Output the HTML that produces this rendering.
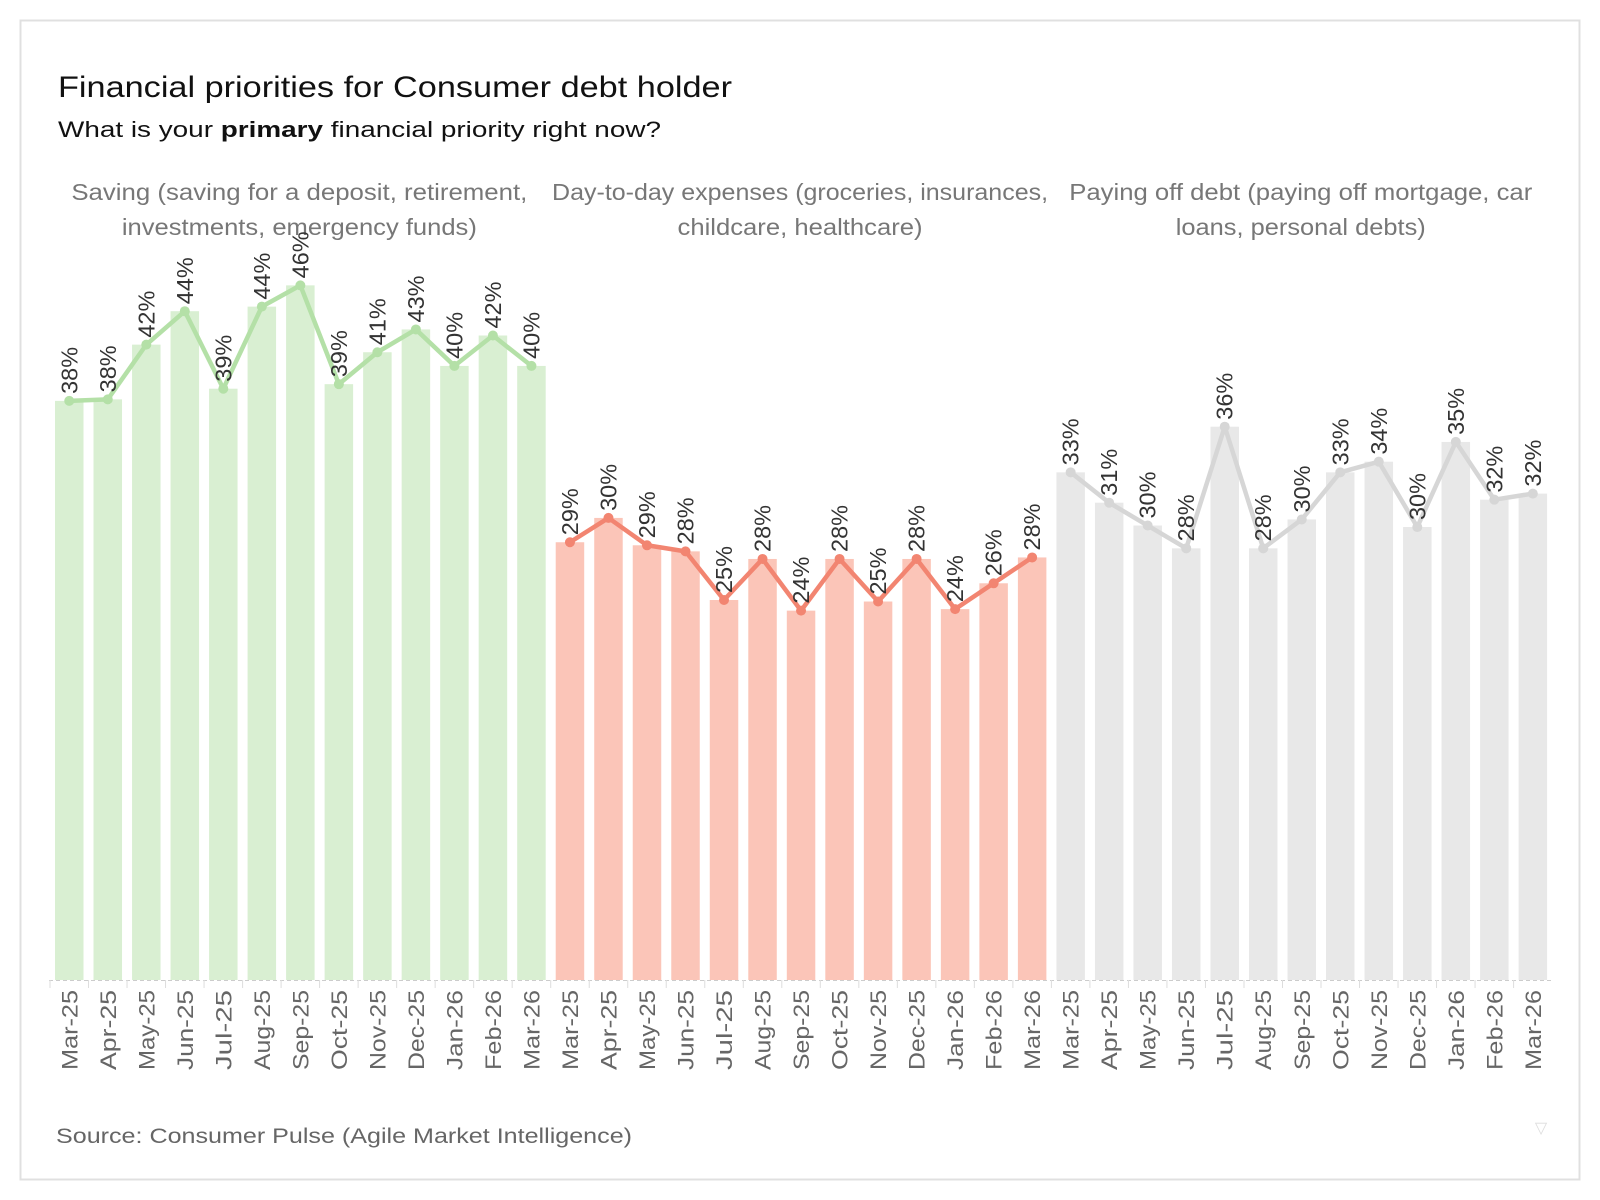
<!DOCTYPE html>
<html><head><meta charset="utf-8"><style>
html,body{margin:0;padding:0;background:#fff;width:1600px;height:1200px;overflow:hidden}
svg{display:block;font-family:"Liberation Sans",sans-serif}
</style></head><body>
<svg id="chart" width="1600" height="1200" viewBox="0 0 1600 1200">
<rect x="20.5" y="20.5" width="1559" height="1159" fill="#fff" stroke="#e0e0e0" stroke-width="2"/>
<text x="58" y="97" font-size="30" fill="#111" textLength="674" lengthAdjust="spacingAndGlyphs">Financial priorities for Consumer debt holder</text>
<text x="58" y="137" font-size="22" fill="#111" textLength="603" lengthAdjust="spacingAndGlyphs">What is your <tspan font-weight="bold">primary</tspan> financial priority right now?</text>
<g id="headers"></g>
<line x1="49" y1="980.5" x2="1551" y2="980.5" stroke="#ccc" stroke-dasharray="4,3"/>
<g id="plot"></g>
<text x="56" y="1143" font-size="21" fill="#666" textLength="576" lengthAdjust="spacingAndGlyphs">Source: Consumer Pulse (Agile Market Intelligence)</text>
<text x="1541" y="1133" font-size="16" fill="#ddd" text-anchor="middle">▽</text>
</svg>
<script>
const months = ["Mar-25","Apr-25","May-25","Jun-25","Jul-25","Aug-25","Sep-25","Oct-25","Nov-25","Dec-25","Jan-26","Feb-26","Mar-26"];
const savingValues = [38.1,38.2,41.8,44.0,38.9,44.3,45.7,39.2,41.3,42.8,40.4,42.4,40.4];
const expensesValues = [28.8,30.4,28.6,28.2,25.0,27.7,24.3,27.7,24.9,27.7,24.4,26.1,27.8];
const debtValues = [33.4,31.4,29.9,28.4,36.4,28.4,30.3,33.4,34.1,29.8,35.4,31.6,32.0];
const panelNames = ["saving","expenses","debt"];
const panelHeaders = [["Saving (saving for a deposit, retirement,","investments, emergency funds)"],["Day-to-day expenses (groceries, insurances,","childcare, healthcare)"],["Paying off debt (paying off mortgage, car","loans, personal debts)"]];
const headerLens = [[456,355],[496,245],[463,250]];
const panelColors = [["#d9efd2","#b4e0a7"],["#fbc5b8","#f28571"],["#e8e8e8","#d6d6d6"]];
const allValues = [savingValues, expensesValues, debtValues];

const NS="http://www.w3.org/2000/svg";
const base=980, pxPer=15.2, panelX0=49, panelW=500.7, step=panelW/13, barW=28.5;
function yScale(v){return base - v*pxPer;}
function xScale(p,i){return panelX0 + p*panelW + (i+0.5)*step + 1;}
function mk(tag,attrs,parent){const e=document.createElementNS(NS,tag);for(const k in attrs)e.setAttribute(k,attrs[k]);parent.appendChild(e);return e;}
const plot=document.getElementById('plot'), hdr=document.getElementById('headers');
allValues.forEach((vals,p)=>{
  const cx=panelX0+p*panelW+panelW/2;
  panelHeaders[p].forEach((line,li)=>{
    const t=mk('text',{x:cx,y:200+li*35,'font-size':23,fill:'#777','text-anchor':'middle',textLength:headerLens[p][li],lengthAdjust:'spacingAndGlyphs'},hdr);
    
    
    t.textContent=line;
  });
  const g=mk('g',{},plot);
  
  
  vals.forEach((v,i)=>{
    const x=xScale(p,i), y=yScale(v);
    const r=mk('rect',{x:x-barW/2,y:y,width:barW,height:base-y,fill:panelColors[p][0]},g);
    
    
    const tk=mk('line',{x1:x-step/2,y1:980,x2:x-step/2,y2:988,stroke:'#ddd'},g);
    
    
    const lb=mk('text',{transform:`translate(${x+8},990) rotate(-90)`,'font-size':22,fill:'#666','text-anchor':'end',textLength:80,lengthAdjust:'spacingAndGlyphs'},g);
    
    
    lb.textContent=months[i];
  });
  const pts=vals.map((v,i)=>xScale(p,i)+','+yScale(v)).join(' ');
  const pl=mk('polyline',{points:pts,fill:'none',stroke:panelColors[p][1],'stroke-width':4.5,'stroke-linejoin':'round'},g);
  
  
  vals.forEach((v,i)=>{
    const x=xScale(p,i), y=yScale(v);
    const c=mk('circle',{cx:x,cy:y,r:5,fill:panelColors[p][1]},g);
    
    
    const t=mk('text',{transform:`translate(${x+8},${y-7}) rotate(-90)`,'font-size':23,fill:'#333',textLength:47,lengthAdjust:'spacingAndGlyphs'},g);
    
    
    t.textContent=Math.round(v)+'%';
  });
});
</script>
</body></html>
